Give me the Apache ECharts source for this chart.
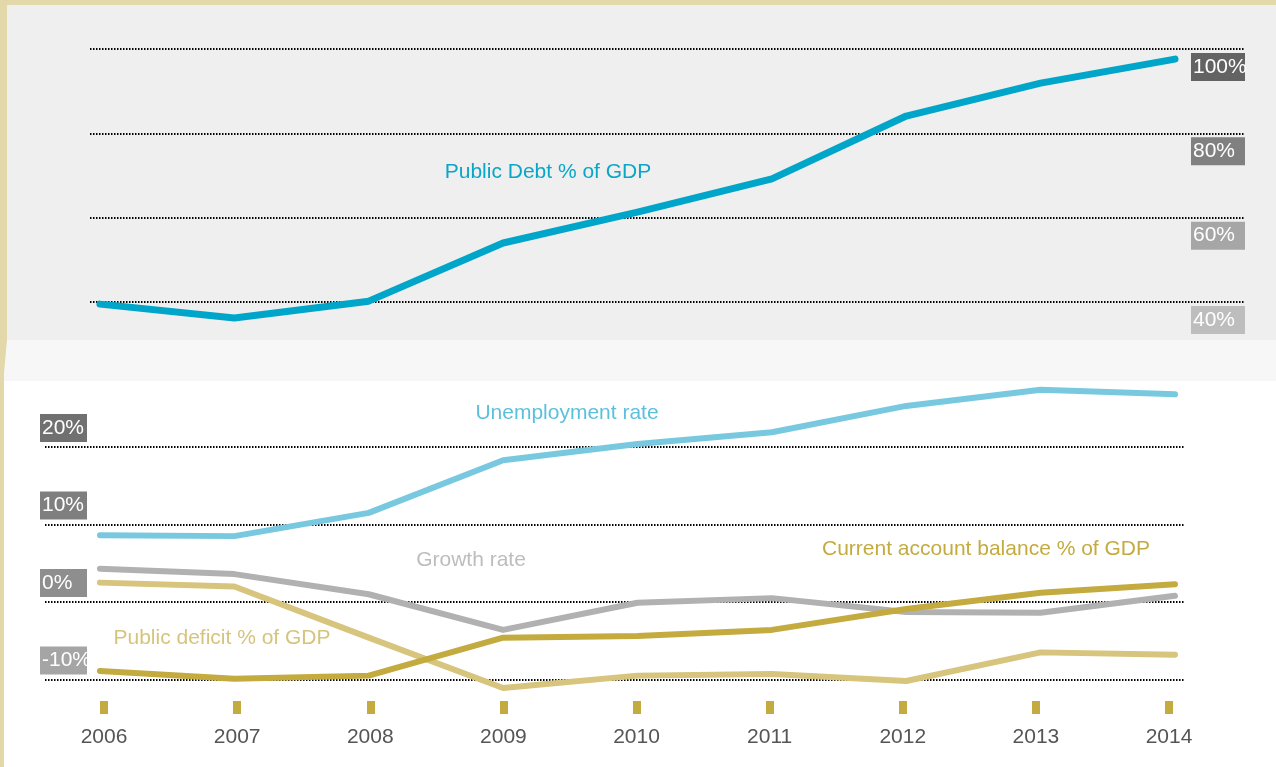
<!DOCTYPE html>
<html>
<head>
<meta charset="utf-8">
<script src="https://cdn.jsdelivr.net/npm/echarts@6/dist/echarts.min.js"></script>
<style>
html,body{margin:0;padding:0;background:#fff;}
#main{width:1276px;height:767px;}
</style>
</head>
<body>
<div id="main"></div>
<script>
// data
var years = [2006, 2007, 2008, 2009, 2010, 2011, 2012, 2013, 2014];
var publicDebt = [39.5, 36.2, 40.2, 54.0, 61.3, 69.2, 84.1, 91.9, 97.6];
var unemployment = [8.6, 8.5, 11.5, 18.3, 20.4, 21.9, 25.3, 27.4, 26.8];
var growthRate = [4.3, 3.6, 1.0, -3.6, -0.1, 0.5, -1.3, -1.4, 0.8];
var publicDeficit = [2.5, 2.0, -4.6, -11.1, -9.5, -9.3, -10.2, -6.5, -6.8];
var currentAccount = [-8.9, -9.9, -9.5, -4.6, -4.4, -3.6, -0.9, 1.2, 2.3];
var debtTicks = [40, 60, 80, 100];
var lowerTicks = [-10, 0, 10, 20];

var FONT = '"Liberation Sans", Arial, sans-serif';
var GOLD = '#c4ab3f';

function pairs(vals){
    return years.map(function(y,i){ return [y, vals[i]]; });
}

// grey boxes behind the tick labels, darker for higher values
var debtBox = {40:'#bdbdbd', 60:'#a6a6a6', 80:'#808080', 100:'#636363'};
var lowBox = {'-10':'#a5a5a5', 0:'#8e8e8e', 10:'#7f7f7f', 20:'#707070'};

function boxRich(map, w){
    var r = {};
    Object.keys(map).forEach(function(k){
        r['b' + String(k).replace('-','m')] = {
            backgroundColor: map[k], color:'#fff', fontSize:21, fontFamily:FONT,
            width:w, height:28, lineHeight:28, align:'left', padding:[0,0,0,2]
        };
    });
    return r;
}

var dotted = {color:'#000', width:2, type:[1.5,1.5]};

function lineSeries(name, vals, color, width, xi, yi){
    return {
        name:name, type:'line', data:pairs(vals),
        xAxisIndex:xi, yAxisIndex:yi,
        symbol:'none', clip:false, silent:true,
        lineStyle:{color:color, width:width, cap:'round', join:'round'}
    };
}

var chart = echarts.init(document.getElementById('main'));
var option = {
    animation:false,
    graphic:{elements:[
        {type:'rect', z:-10, shape:{x:7,y:5,width:1269,height:335}, style:{fill:'#efefef'}},
        {type:'rect', z:-10, shape:{x:4,y:340,width:1272,height:41}, style:{fill:'#f7f7f7'}},
        {type:'rect', z:-10, shape:{x:0,y:0,width:1276,height:5}, style:{fill:'#e3d8aa'}},
        {type:'polygon', z:-10, shape:{points:[[0,0],[7,0],[7,340],[4,373],[4,767],[0,767]]}, style:{fill:'#e3d8aa'}},
        {type:'text', z:10, x:548, y:172, style:{text:'Public Debt % of GDP', fill:'#0aa6c8', font:'21px ' + FONT, textAlign:'center', textVerticalAlign:'middle'}},
        {type:'text', z:10, x:567, y:413, style:{text:'Unemployment rate', fill:'#5cc0dc', font:'21px ' + FONT, textAlign:'center', textVerticalAlign:'middle'}},
        {type:'text', z:10, x:471, y:560, style:{text:'Growth rate', fill:'#bdbdbd', font:'21px ' + FONT, textAlign:'center', textVerticalAlign:'middle'}},
        {type:'text', z:10, x:986, y:549, style:{text:'Current account balance % of GDP', fill:GOLD, font:'21px ' + FONT, textAlign:'center', textVerticalAlign:'middle'}},
        {type:'text', z:10, x:222, y:638, style:{text:'Public deficit % of GDP', fill:'#d6c47c', font:'21px ' + FONT, textAlign:'center', textVerticalAlign:'middle'}}
    ]},
    grid:[
        {left:90, right:31, top:49, height:253},
        {left:45, right:92, top:447, height:232.5},
        {left:104, right:107, top:690, height:11}
    ],
    xAxis:[
        {gridIndex:0, type:'value', min:2005.926, max:2014.521, show:false},
        {gridIndex:1, type:'value', min:2005.591, max:2014.067, show:false},
        {gridIndex:2, type:'category', data:years, boundaryGap:false,
         axisLine:{show:false},
         axisTick:{show:true, length:13, lineStyle:{color:GOLD, width:8}},
         axisLabel:{margin:26, color:'#555', fontSize:21, fontFamily:FONT}}
    ],
    yAxis:[
        {gridIndex:0, type:'value', position:'right', min:40, max:100, interval:20,
         axisLine:{show:false}, axisTick:{show:false},
         splitLine:{show:true, lineStyle:dotted},
         axisLabel:{inside:true, margin:54, align:'left', verticalAlign:'top', padding:[4,0,0,0],
             formatter:function(v){ return '{b' + v + '|' + v + '%}'; },
             rich:boxRich(debtBox, 52)}},
        {gridIndex:1, type:'value', position:'left', min:-10, max:20, interval:10,
         axisLine:{show:false}, axisTick:{show:false},
         splitLine:{show:true, lineStyle:dotted},
         axisLabel:{margin:5, align:'left', verticalAlign:'bottom', padding:[0,0,5,0],
             formatter:function(v){ return '{b' + String(v).replace('-','m') + '|' + v + '%}'; },
             rich:boxRich(lowBox, 45)}},
        {gridIndex:2, type:'value', show:false}
    ],
    series:[
        lineSeries('Public Debt % of GDP', publicDebt, '#00a6c9', 7, 0, 0),
        lineSeries('Unemployment rate', unemployment, '#78c9df', 6, 1, 1),
        lineSeries('Public deficit % of GDP', publicDeficit, '#d7c47d', 6, 1, 1),
        lineSeries('Growth rate', growthRate, '#b1b1b1', 6, 1, 1),
        lineSeries('Current account balance % of GDP', currentAccount, GOLD, 6, 1, 1)
    ]
};
chart.setOption(option);
</script>
</body>
</html>
